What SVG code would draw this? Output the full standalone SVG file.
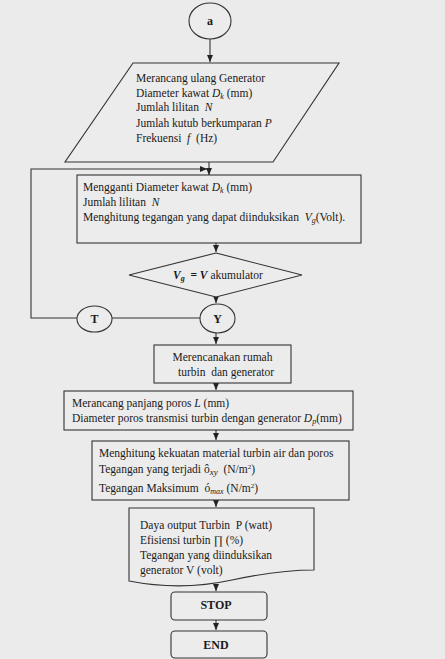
<svg xmlns="http://www.w3.org/2000/svg" width="445" height="659" viewBox="0 0 445 659">
<defs>
<marker id="ah" markerWidth="8" markerHeight="8" refX="7" refY="4" orient="auto" markerUnits="userSpaceOnUse">
<path d="M0,1 L7,4 L0,7 Z" fill="#222"/>
</marker>
<style>
.s{fill:none;stroke:#333;stroke-width:1.1}
.n{fill:#ececec;stroke:#333;stroke-width:1.1}
.t{font-family:"Liberation Serif","Times New Roman",serif;font-size:11.5px;fill:#1a1a1a;white-space:pre}
.b{font-weight:bold;font-size:12px}
.i{font-style:italic}
.c{text-anchor:middle}
</style>
</defs>
<rect width="445" height="659" fill="#ebebeb"/>
<g id="connectors" class="s">
<line x1="210" y1="39" x2="210" y2="62" marker-end="url(#ah)"/>
<line x1="209" y1="162" x2="209" y2="175" marker-end="url(#ah)"/>
<polyline points="77,318 31,318 31,169 207,169" marker-end="url(#ah)"/>
<line x1="216" y1="243" x2="216" y2="252" marker-end="url(#ah)"/>
<line x1="216" y1="297" x2="216" y2="303" marker-end="url(#ah)"/>
<line x1="112" y1="318" x2="200" y2="318"/>
<line x1="216" y1="333" x2="216" y2="344" marker-end="url(#ah)"/>
<line x1="216" y1="383" x2="216" y2="390" marker-end="url(#ah)"/>
<line x1="216" y1="430" x2="216" y2="440" marker-end="url(#ah)"/>
<line x1="216" y1="500" x2="216" y2="507" marker-end="url(#ah)"/>
<line x1="216" y1="585" x2="216" y2="591" marker-end="url(#ah)"/>
<line x1="216" y1="620" x2="216" y2="630" marker-end="url(#ah)"/>
</g>
<g id="node-a">
<ellipse class="n" cx="210" cy="21" rx="21" ry="18"/>
<text class="t b c" x="210" y="25">a</text>
</g>
<g id="node-input">
<polygon class="n" points="133,63 339,63 273,162 65,162"/>
<text class="t" x="136" y="82">Merancang ulang Generator</text>
<text class="t" x="136" y="97">Diameter kawat <tspan class="i">D</tspan><tspan class="i" font-size="8" dy="2">k</tspan><tspan dy="-2"> (mm)</tspan></text>
<text class="t" x="136" y="111">Jumlah lilitan  <tspan class="i">N</tspan></text>
<text class="t" x="136" y="127">Jumlah kutub berkumparan <tspan class="i">P</tspan></text>
<text class="t" x="136" y="142">Frekuensi  <tspan class="i">f</tspan>  (Hz)</text>
</g>
<g id="node-ganti">
<rect class="n" x="77" y="175" width="284" height="68"/>
<text class="t" x="83" y="191">Mengganti Diameter kawat <tspan class="i">D</tspan><tspan class="i" font-size="8" dy="2">k</tspan><tspan dy="-2"> (mm)</tspan></text>
<text class="t" x="83" y="206">Jumlah lilitan  <tspan class="i">N</tspan></text>
<text class="t" x="83" y="221">Menghitung tegangan yang dapat diinduksikan  <tspan class="i">V</tspan><tspan class="i" font-size="8" dy="2">g</tspan><tspan dy="-2">(Volt).</tspan></text>
</g>
<g id="node-decision">
<polygon class="n" points="216,253 302,275 216,297 129,275"/>
<text class="t" x="173" y="279"><tspan class="i" font-weight="bold">V</tspan><tspan class="i" font-weight="bold" font-size="8" dy="2">g</tspan><tspan dy="-2" font-weight="bold">  = </tspan><tspan class="i" font-weight="bold">V</tspan> akumulator</text>
</g>
<g id="node-T">
<ellipse class="n" cx="94.5" cy="319" rx="17.5" ry="13"/>
<text class="t b c" x="94.5" y="323">T</text>
</g>
<g id="node-Y">
<ellipse class="n" cx="217.5" cy="318.5" rx="17.5" ry="14.5"/>
<text class="t b c" x="217.5" y="323">Y</text>
</g>
<g id="node-rumah">
<rect class="n" x="154" y="345" width="137" height="38"/>
<text class="t c" x="222.5" y="361">Merencanakan rumah</text>
<text class="t c" x="226" y="376">turbin  dan generator</text>
</g>
<g id="node-poros">
<rect class="n" x="64" y="391" width="289" height="39"/>
<text class="t" x="72" y="407">Merancang panjang poros <tspan class="i">L</tspan> (mm)</text>
<text class="t" x="72" y="422">Diameter poros transmisi turbin dengan generator <tspan class="i">D</tspan><tspan class="i" font-size="8" dy="2">p</tspan><tspan dy="-2">(mm)</tspan></text>
</g>
<g id="node-kekuatan">
<rect class="n" x="92" y="441" width="257" height="59"/>
<text class="t" x="99" y="457">Menghitung kekuatan material turbin air dan poros</text>
<text class="t" x="99" y="473">Tegangan yang terjadi ô<tspan class="i" font-size="9" dy="2">xy</tspan><tspan dy="-2">  (N/m</tspan><tspan font-size="7" dy="-4">2</tspan><tspan dy="4">)</tspan></text>
<text class="t" x="99" y="492">Tegangan Maksimum  ó<tspan class="i" font-size="8" dy="2">max</tspan><tspan dy="-2"> (N/m</tspan><tspan font-size="7" dy="-4">2</tspan><tspan dy="4">)</tspan></text>
</g>
<g id="node-output">
<path class="n" d="M129,508 L314,508 L314,570 C285,570 260,574 232,580 C200,587 165,588 129,581 Z"/>
<text class="t" x="140" y="529">Daya output Turbin  P (watt)</text>
<text class="t" x="140" y="544">Efisiensi turbin ∏ (%)</text>
<text class="t" x="140" y="559">Tegangan yang diinduksikan</text>
<text class="t" x="140" y="574">generator V (volt)</text>
</g>
<g id="node-stop">
<rect class="n" x="171" y="592" width="96" height="28" rx="4"/>
<text class="t b c" x="216" y="609">STOP</text>
</g>
<g id="node-end">
<rect class="n" x="171" y="631" width="96" height="27" rx="4"/>
<text class="t b c" x="216" y="649">END</text>
</g>
</svg>
